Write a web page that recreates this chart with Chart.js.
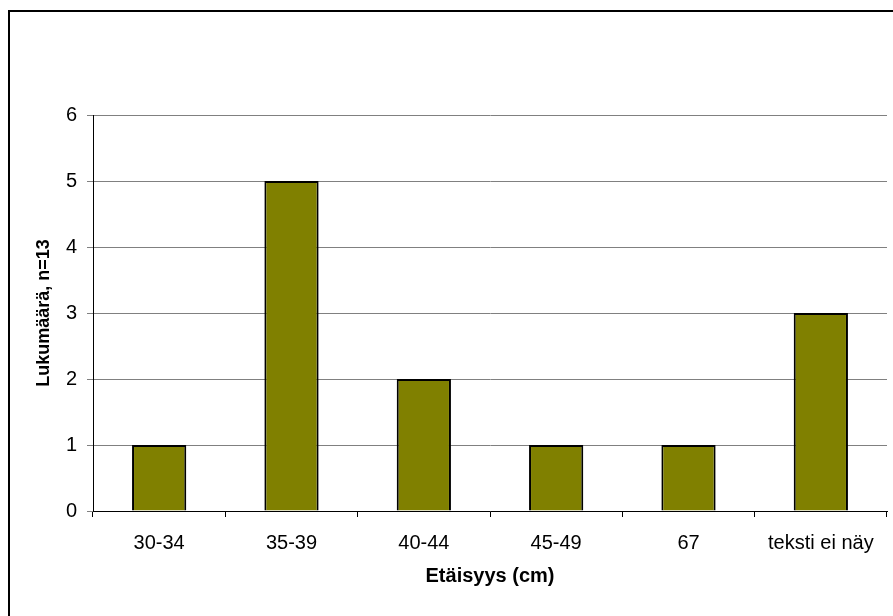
<!DOCTYPE html>
<html>
<head>
<meta charset="utf-8">
<script src="https://cdn.jsdelivr.net/npm/chart.js@4"></script>
<style>
html,body{margin:0;padding:0;background:#fff;overflow:hidden;}
#wrap{position:relative;width:893px;height:616px;}
</style>
</head>
<body>
<div id="wrap"><canvas id="c" width="893" height="616"></canvas></div>
<script>
const categories = ["30-34", "35-39", "40-44", "45-49", "67", "teksti ei näy"];
const counts = [1, 5, 2, 1, 1, 3];
const yTicks = [0, 1, 2, 3, 4, 5, 6];
const xTitle = "Etäisyys (cm)";
const yTitle = "Lukumäärä, n=13";

const FONT = "'Liberation Sans', Arial, sans-serif";

const outerBorder = {
  id: 'outerBorder',
  beforeDraw(chart) {
    const ctx = chart.ctx;
    ctx.save();
    ctx.fillStyle = '#fff';
    ctx.fillRect(0, 0, chart.width, chart.height);
    ctx.strokeStyle = '#000';
    ctx.lineWidth = 2;
    ctx.strokeRect(9, 11, chart.width + 50, chart.height + 50);
    ctx.restore();
  }
};

new Chart(document.getElementById('c'), {
  type: 'bar',
  data: {
    labels: categories,
    datasets: [{
      data: counts,
      backgroundColor: '#808000',
      borderColor: '#000',
      borderWidth: 2,
      barPercentage: 0.41,
      categoryPercentage: 1.0
    }]
  },
  options: {
    responsive: false,
    animation: false,
    devicePixelRatio: 1,
    layout: { padding: { left: 0, top: 115, right: 6, bottom: 0 } },
    plugins: { legend: { display: false }, tooltip: { enabled: false }, title: { display: false } },
    scales: {
      x: {
        offset: true,
        afterFit(s) { s.height = 105; },
        grid: {
          offset: true,
          drawOnChartArea: true,
          color: (c) => c.index === categories.length ? '#808080' : 'rgba(0,0,0,0)',
          tickColor: '#000',
          tickLength: 6,
          lineWidth: 1
        },
        border: { display: true, color: '#000', width: 1 },
        ticks: { color: '#000', font: { family: FONT, size: 20 }, padding: 14, maxRotation: 0, autoSkip: false },
        title: { display: true, text: xTitle, color: '#000', font: { family: FONT, size: 20, weight: 'bold' }, padding: { top: 0, bottom: 28 } }
      },
      y: {
        min: 0,
        max: 6,
        afterFit(s) { s.width = 93; },
        afterBuildTicks(s) { s.ticks = yTicks.map(v => ({ value: v })); },
        grid: { color: '#808080', tickColor: '#808080', tickLength: 6, lineWidth: 1 },
        border: { display: true, color: '#000', width: 1 },
        ticks: { color: '#000', font: { family: FONT, size: 20 }, padding: 10, stepSize: 1 },
        title: { display: true, text: yTitle, color: '#000', font: { family: FONT, size: 18, weight: 'bold' }, padding: { top: 33, bottom: 0 } }
      }
    }
  },
  plugins: [outerBorder]
});
</script>
</body>
</html>
